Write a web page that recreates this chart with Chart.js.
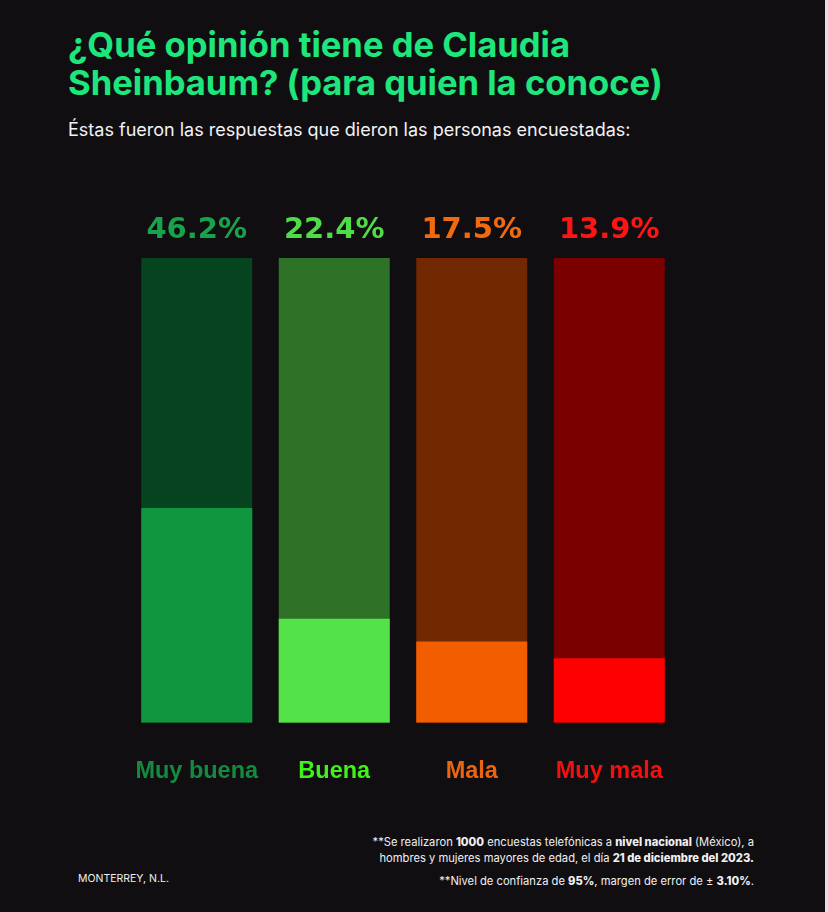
<!DOCTYPE html>
<html>
<head>
<meta charset="utf-8">
<script src="https://cdn.jsdelivr.net/npm/chart.js@4.4.0/dist/chart.umd.min.js"></script>
<style>
  html, body { margin: 0; padding: 0; }
  body { width: 828px; height: 912px; background: #110e12; position: relative; overflow: hidden; font-family: Inter, "Liberation Sans", sans-serif; }
  #edge { position: absolute; left: 825px; top: 0; width: 3px; height: 912px; background: #e2e0e4; }
  h1 { position: absolute; left: 68px; top: 25px; margin: 0; color: #1fe67c; font-size: 34.6px; line-height: 38px; font-weight: 700; letter-spacing: 0; white-space: nowrap; }
  #sub { position: absolute; left: 68px; top: 119px; color: #f2f2f2; font-size: 18px; white-space: nowrap; }
  #wrap { position: absolute; left: 128px; top: 200px; width: 550px; height: 586px; }
  .note { position: absolute; right: 74px; color: #f0f0f0; font-size: 11.2px; text-align: right; line-height: 16px; white-space: nowrap; }
  .note b { font-weight: 800; }
  #city { position: absolute; left: 78px; top: 872px; color: #f0f0f0; font-size: 10.5px; }
</style>
</head>
<body>
<div id="edge"></div>
<h1>¿Qué opinión tiene de Claudia<br>Sheinbaum? (para quien la conoce)</h1>
<div id="sub">Éstas fueron las respuestas que dieron las personas encuestadas:</div>
<div id="wrap"><canvas id="chart" width="550" height="586"></canvas></div>
<div class="note" style="top:834px">**Se realizaron <b>1000</b> encuestas telefónicas a <b>nivel nacional</b> (México), a<br>hombres y mujeres mayores de edad, el día <b>21 de diciembre del 2023.</b></div>
<div class="note" style="top:873px">**Nivel de confianza de <b>95%</b>, margen de error de ± <b>3.10%</b>.</div>
<div id="city">MONTERREY, N.L.</div>
<script>
// datos de la encuesta
const categories = ['Muy buena', 'Buena', 'Mala', 'Muy mala'];
const values = [46.2, 22.4, 17.5, 13.9];
const totals = [100, 100, 100, 100];

const barColors = ['#10963f', '#53e247', '#f25d00', '#ff0000'];
const backColors = ['#05441e', '#2d7226', '#722800', '#7a0000'];
const valueColors = ['#17a34a', '#4fdc48', '#f26a10', '#ff1414'];
const labelColors = ['#148a3f', '#3ff21c', '#ea6512', '#f21010'];

const valueLabels = {
  id: 'valueLabels',
  afterDatasetsDraw(chart) {
    const ctx = chart.ctx;
    const meta = chart.getDatasetMeta(1);
    ctx.save();
    ctx.font = 'bold 29px "DejaVu Sans", sans-serif';
    ctx.textAlign = 'center';
    ctx.textBaseline = 'alphabetic';
    meta.data.forEach((bar, i) => {
      ctx.fillStyle = valueColors[i];
      ctx.fillText(values[i].toFixed(1) + '%', bar.x, bar.y - 20);
    });
    ctx.restore();
  }
};

new Chart(document.getElementById('chart'), {
  type: 'bar',
  data: {
    labels: categories,
    datasets: [
      { data: values, backgroundColor: barColors, order: 0, barPercentage: 1, categoryPercentage: 0.807, grouped: false },
      { data: totals, backgroundColor: backColors, order: 1, barPercentage: 1, categoryPercentage: 0.807, grouped: false }
    ]
  },
  options: {
    responsive: false,
    animation: false,
    layout: { padding: { top: 58, left: 0, right: 0, bottom: 0 } },
    plugins: { legend: { display: false }, tooltip: { enabled: false } },
    scales: {
      x: {
        // tickLength keeps the label gap without the side padding ticks.padding adds
        grid: { display: false, drawTicks: true, tickLength: 35 },
        border: { display: false },
        ticks: {
          color: labelColors,
          padding: 0,
          maxRotation: 0,
          minRotation: 0,
          autoSkip: false,
          font: { family: '"Liberation Sans"', size: 23.5, weight: 'bold' }
        }
      },
      y: { display: false, min: 0, max: 100 }
    }
  },
  plugins: [valueLabels]
});
</script>
</body>
</html>
